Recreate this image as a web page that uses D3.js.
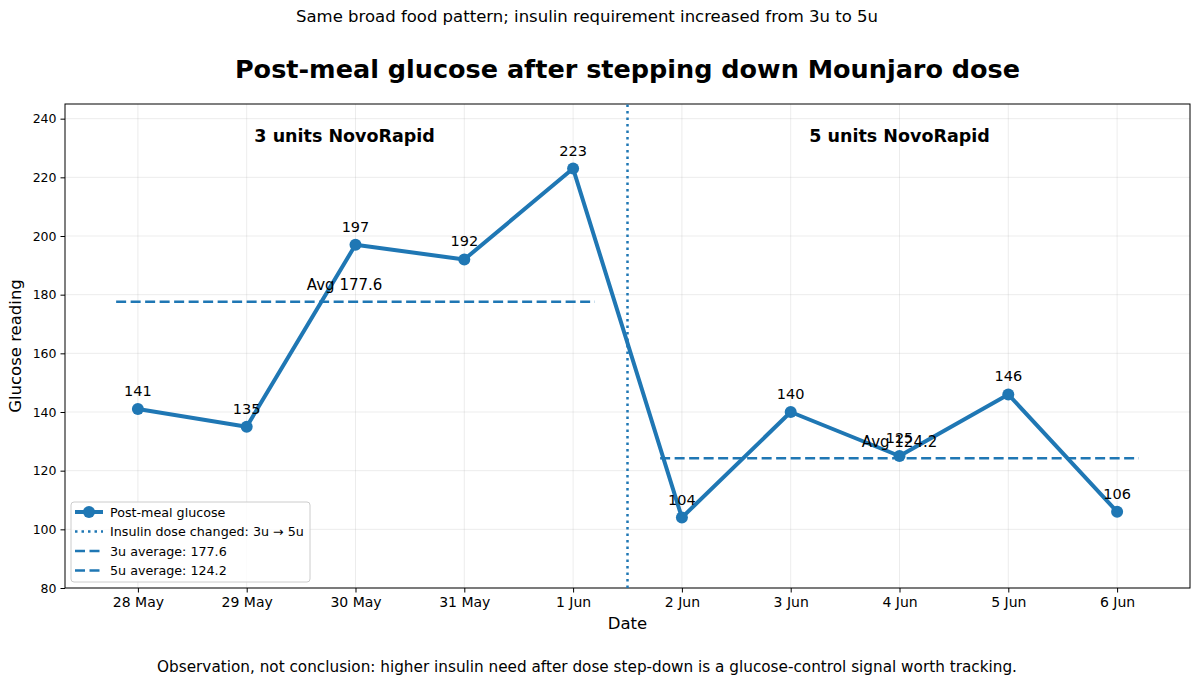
<!DOCTYPE html>
<html lang="en">
<head>
    <meta charset="utf-8">
    <title>Post-meal glucose</title>
    <script src="https://d3js.org/d3.v7.min.js"></script>
    <style>
        body { margin: 0; background: #fff; }
        text { font-family: "DejaVu Sans", sans-serif; }
    </style>
</head>
<body>
<script>
    // data
    const dates = ['28 May', '29 May', '30 May', '31 May', '1 Jun', '2 Jun', '3 Jun', '4 Jun', '5 Jun', '6 Jun'];
    const glucose = [141, 135, 197, 192, 223, 104, 140, 125, 146, 106];
    const yTicks = [80, 100, 120, 140, 160, 180, 200, 220, 240];
    const switchIndex = 4.5;
    const avg3u = 177.6;
    const avg5u = 124.2;

    const width = 1200, height = 685;
    const margin = { top: 104, right: 10, bottom: 97, left: 65 };
    const blue = '#1f77b4';

    const svg = d3.select('body').append('svg')
        .attr('width', width).attr('height', height);

    const x = d3.scaleLinear().domain([-0.67, 9.67]).range([margin.left, width - margin.right]);
    const y = d3.scaleLinear().domain([80, 245]).range([height - margin.bottom, margin.top]);

    // grid
    const grid = svg.append('g').attr('stroke', '#b0b0b0').attr('stroke-opacity', 0.3).attr('stroke-width', 0.8);
    grid.selectAll('.gx').data(dates).enter().append('line')
        .attr('x1', (d, i) => x(i)).attr('x2', (d, i) => x(i))
        .attr('y1', y.range()[0]).attr('y2', y.range()[1]);
    grid.selectAll('.gy').data(yTicks).enter().append('line')
        .attr('x1', x.range()[0]).attr('x2', x.range()[1])
        .attr('y1', d => y(d)).attr('y2', d => y(d));

    // axes
    const xAxis = d3.axisBottom(x)
        .tickValues(d3.range(dates.length))
        .tickFormat(i => dates[i])
        .tickSizeOuter(0).tickSize(4.5).tickPadding(5);
    const gx = svg.append('g')
        .attr('transform', `translate(0,${height - margin.bottom})`)
        .call(xAxis);
    gx.select('.domain').remove();
    gx.selectAll('text').attr('font-size', 14).attr('fill', '#000').style('font-family', 'DejaVu Sans');

    const yAxis = d3.axisLeft(y).tickValues(yTicks).tickSizeOuter(0).tickSize(4.5).tickPadding(4);
    const gy = svg.append('g')
        .attr('transform', `translate(${margin.left},0)`)
        .call(yAxis);
    gy.select('.domain').remove();
    gy.selectAll('text').attr('font-size', 12.5).attr('fill', '#000').style('font-family', 'DejaVu Sans');

    // frame
    svg.append('rect')
        .attr('x', x.range()[0]).attr('y', y.range()[1])
        .attr('width', x.range()[1] - x.range()[0])
        .attr('height', y.range()[0] - y.range()[1])
        .attr('fill', 'none').attr('stroke', '#000').attr('stroke-width', 1);

    // switch line
    svg.append('line')
        .attr('x1', x(switchIndex)).attr('x2', x(switchIndex))
        .attr('y1', y.range()[0]).attr('y2', y.range()[1])
        .attr('stroke', blue).attr('stroke-width', 2.5)
        .attr('stroke-dasharray', '2.5,4');

    // averages
    const avgs = [
        { v: avg3u, from: -0.2, to: 4.2, at: 1.9 },
        { v: avg5u, from: 4.8, to: 9.2, at: 7 }
    ];
    svg.selectAll('.avg').data(avgs).enter().append('line')
        .attr('x1', d => x(d.from)).attr('x2', d => x(d.to))
        .attr('y1', d => y(d.v)).attr('y2', d => y(d.v))
        .attr('stroke', blue).attr('stroke-width', 2.5)
        .attr('stroke-dasharray', '10,4.5');

    // main line
    svg.append('path')
        .datum(glucose)
        .attr('fill', 'none').attr('stroke', blue).attr('stroke-width', 4)
        .attr('stroke-linejoin', 'round')
        .attr('d', d3.line().x((d, i) => x(i)).y(d => y(d)));

    svg.selectAll('.pt').data(glucose).enter().append('circle')
        .attr('cx', (d, i) => x(i)).attr('cy', d => y(d))
        .attr('r', 6).attr('fill', blue);

    // value labels
    svg.selectAll('.lbl').data(glucose).enter().append('text')
        .attr('x', (d, i) => x(i)).attr('y', d => y(d) - 13)
        .attr('text-anchor', 'middle').attr('font-size', 14.5)
        .text(d => d);

    // average labels
    svg.selectAll('.avglbl').data(avgs).enter().append('text')
        .attr('x', d => x(d.at)).attr('y', d => y(d.v) - 11.5)
        .attr('text-anchor', 'middle').attr('font-size', 15)
        .text(d => 'Avg ' + d.v.toFixed(1));

    // phase labels
    const phases = [{ t: '3 units NovoRapid', at: 1.9 }, { t: '5 units NovoRapid', at: 7 }];
    svg.selectAll('.phase').data(phases).enter().append('text')
        .attr('x', d => x(d.at)).attr('y', y(232))
        .attr('text-anchor', 'middle').attr('font-size', 17.5).attr('font-weight', 'bold')
        .text(d => d.t);

    // titles
    svg.append('text')
        .attr('x', (x.range()[0] + x.range()[1]) / 2).attr('y', 78)
        .attr('text-anchor', 'middle').attr('font-size', 25.5).attr('font-weight', 'bold')
        .text('Post-meal glucose after stepping down Mounjaro dose');
    svg.append('text')
        .attr('x', width / 2 - 13).attr('y', 22)
        .attr('text-anchor', 'middle').attr('font-size', 16.5)
        .text('Same broad food pattern; insulin requirement increased from 3u to 5u');
    svg.append('text')
        .attr('x', width / 2 - 13).attr('y', 672)
        .attr('text-anchor', 'middle').attr('font-size', 15.25)
        .text('Observation, not conclusion: higher insulin need after dose step-down is a glucose-control signal worth tracking.');

    // axis titles
    svg.append('text')
        .attr('x', (x.range()[0] + x.range()[1]) / 2).attr('y', 629)
        .attr('text-anchor', 'middle').attr('font-size', 16.5)
        .text('Date');
    svg.append('text')
        .attr('transform', `translate(21,${(y.range()[0] + y.range()[1]) / 2}) rotate(-90)`)
        .attr('text-anchor', 'middle').attr('font-size', 16.5)
        .text('Glucose reading');

    // legend
    const legendItems = [
        { t: 'Post-meal glucose', dash: null, w: 4, marker: true },
        { t: 'Insulin dose changed: 3u \u2192 5u', dash: '2.5,4', w: 2.5 },
        { t: '3u average: 177.6', dash: '10,4.5', w: 2.5 },
        { t: '5u average: 124.2', dash: '10,4.5', w: 2.5 }
    ];
    const lg = svg.append('g').attr('transform', 'translate(71,502)');
    lg.append('rect').attr('width', 239).attr('height', 80).attr('rx', 3)
        .attr('fill', '#fff').attr('fill-opacity', 0.8)
        .attr('stroke', '#ccc').attr('stroke-width', 1);
    const li = lg.selectAll('.li').data(legendItems).enter().append('g')
        .attr('transform', (d, i) => `translate(0,${10 + i * 19.5})`);
    li.append('line').attr('x1', 4).attr('x2', 32).attr('y1', 0).attr('y2', 0)
        .attr('stroke', blue).attr('stroke-width', d => d.w)
        .attr('stroke-dasharray', d => d.dash);
    li.filter(d => d.marker).append('circle').attr('cx', 18).attr('cy', 0).attr('r', 6).attr('fill', blue);
    li.append('text').attr('x', 39).attr('y', 4.5).attr('font-size', 12.7).text(d => d.t);
</script>
</body>
</html>
